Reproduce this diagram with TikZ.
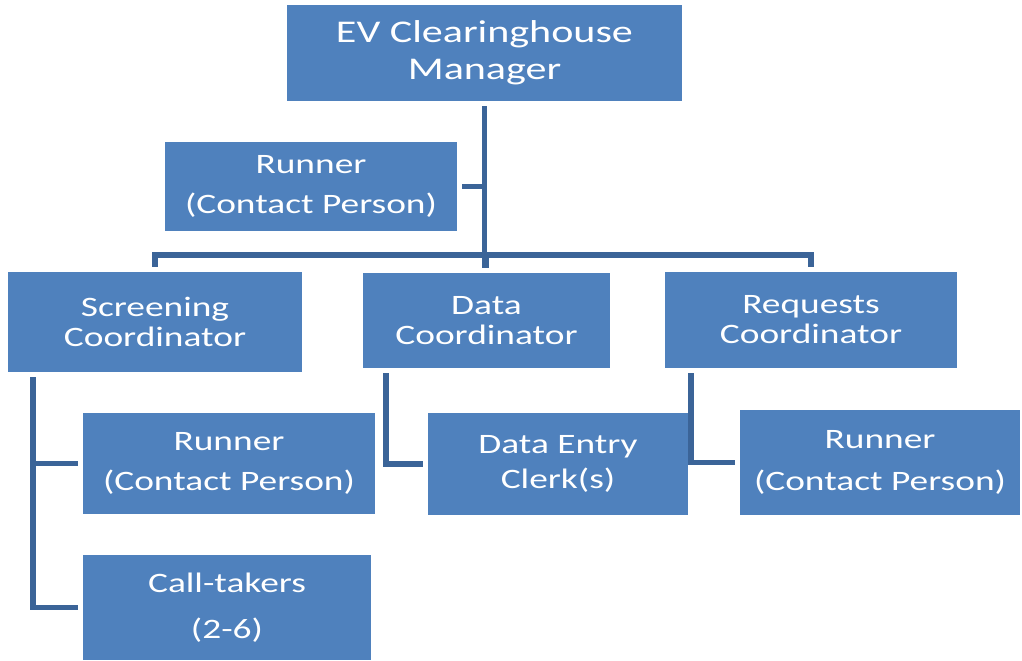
\documentclass[tikz,border=0pt]{standalone}
\usepackage{fontspec}
\setmainfont{Carlito}[FakeStretch=1.33]
\definecolor{boxblue}{RGB}{79,129,189}
\definecolor{linkblue}{RGB}{59,100,152}

\begin{document}
\begin{tikzpicture}[x=0.02cm,y=-0.02cm,
    unit/.style={fill=boxblue,text=white,align=center,inner sep=0pt,outer sep=3pt,
      font=\fontsize{16}{17}\selectfont},
    link/.style={draw=linkblue,line width=3.2pt}]
        \useasboundingbox (0,0) rectangle (1022,660);

        % top level
        \node[unit,minimum width=7.92cm,minimum height=1.92cm,font=\fontsize{18}{21}\selectfont] (mgr) at (484.5,53) {EV Clearinghouse\\Manager};
        \node[unit,minimum width=5.84cm,minimum height=1.78cm] (run0) at (311,186.5) {Runner\\[6pt](Contact Person)};

        % coordinators
        \node[unit,minimum width=5.88cm,minimum height=2cm] (scr) at (155,322) {Screening\\Coordinator};
        \node[unit,minimum width=4.94cm,minimum height=1.9cm] (dat) at (486.5,320.5) {Data\\Coordinator};
        \node[unit,minimum width=5.84cm,minimum height=1.92cm] (req) at (811,320) {Requests\\Coordinator};

        % staff
        \node[unit,minimum width=5.84cm,minimum height=2.02cm] (run1) at (229,463.5) {Runner\\[6pt](Contact Person)};
        \node[unit,minimum width=5.76cm,minimum height=2.1cm] (call) at (227,607.5) {Call-takers\\[9pt](2-6)};
        \node[unit,minimum width=5.2cm,minimum height=2.04cm] (clerk) at (558,464) {Data Entry\\[3pt]Clerk(s)};
        \node[unit,minimum width=5.6cm,minimum height=2.1cm] (run2) at (880,462.5) {Runner\\[7pt](Contact Person)};

        % connectors
        \coordinate (bus) at (0,255);
        \draw[link] (mgr.south) -- (mgr.south |- dat.north);
        \draw[link] (run0.east) -- (run0.east -| mgr.south);
        \draw[link] (scr.north) |- (bus -| req.north) -- (req.north);
        \draw[link] (bus -| dat.north) -- (dat.north);

        \path (scr.south west) ++(30,0) coordinate (scrd);
        \path (dat.south west) ++(28,0) coordinate (datd);
        \path (req.south west) ++(31,0) coordinate (reqd);
        \draw[link] (scrd) |- (call.west);
        \draw[link] (scrd |- run1.west) -- (run1.west);
        \draw[link] (datd) |- (clerk.west);
        \draw[link] (reqd) |- (run2.west);
      \end{tikzpicture}
\end{document}
